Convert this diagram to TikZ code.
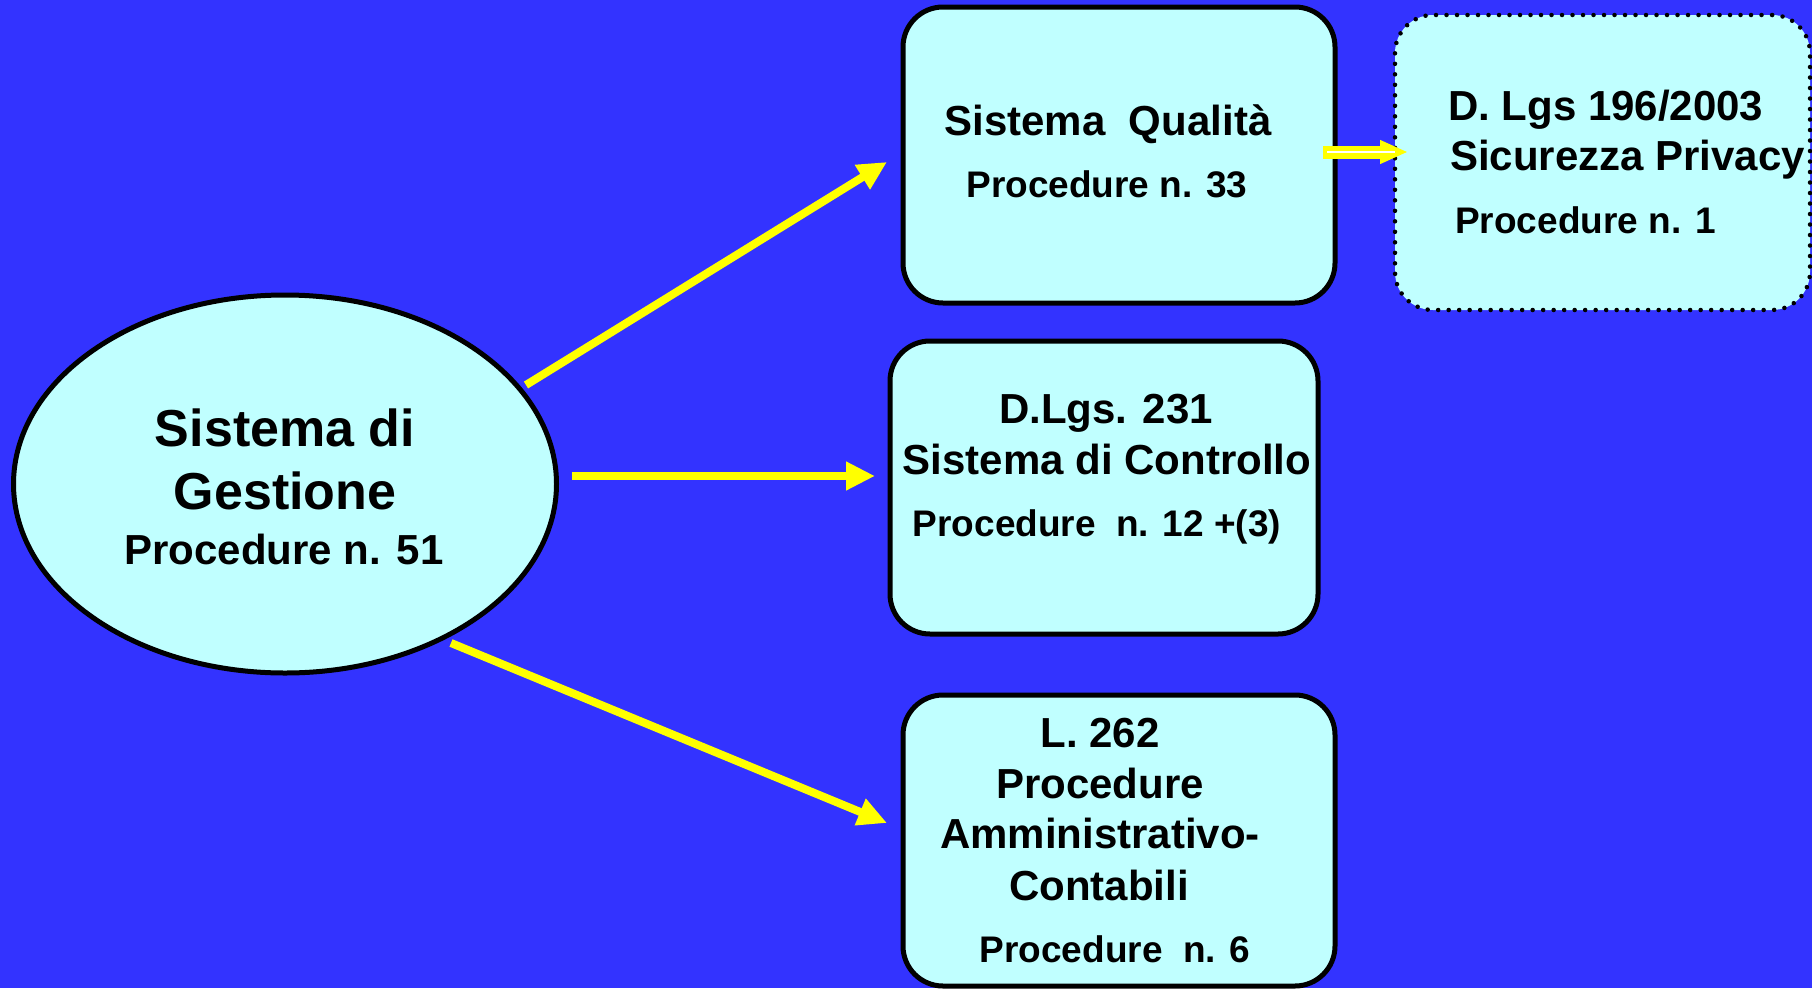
\documentclass[tikz,border=0pt]{standalone}
\usepackage{fontspec}
\setmainfont{Liberation Sans}
\usetikzlibrary{shapes.geometric,arrows.meta}
\definecolor{bgblue}{HTML}{3333FF}
\definecolor{boxfill}{HTML}{C0FFFF}
\definecolor{yel}{HTML}{FFFF00}
\tikzset{
  stepbox/.style={draw=black, line width=5pt, fill=boxfill, rounded corners=40pt, inner sep=0pt},
  dotbox/.style={draw=black, line width=4.5pt, fill=boxfill, rounded corners=38pt, inner sep=0pt,
     dash pattern=on 0pt off 10.5pt, line cap=round},
  ell/.style={draw=black, line width=5pt, fill=boxfill, ellipse, inner sep=0pt},
  huge/.style={font=\fontsize{52}{60}\selectfont\bfseries, anchor=base, inner sep=0pt},
  big/.style={font=\fontsize{42}{50}\selectfont\bfseries, anchor=base, inner sep=0pt},
  small/.style={font=\fontsize{37}{44}\selectfont\bfseries, anchor=base, inner sep=0pt},
  yarrow/.style={draw=yel, line width=8pt, -{Triangle[length=29pt,width=27pt]}, fill=yel},
}
\begin{document}
\begin{tikzpicture}[x=1pt,y=-1pt]
\useasboundingbox (0,0) rectangle (1812,988);
\fill[bgblue] (0,0) rectangle (1812,988);

% shapes
\node[ell, minimum width=543pt, minimum height=378pt] (g) at (285,484) {};
\node[stepbox, minimum width=432pt, minimum height=296pt] (q) at (1119,155) {};
\node[stepbox, minimum width=428pt, minimum height=293pt] (c) at (1104,487.5) {};
\node[stepbox, minimum width=432pt, minimum height=291pt] (l) at (1119,840.5) {};
\node[dotbox, minimum width=415pt, minimum height=295pt] (p) at (1602.5,162.5) {};

% ellipse text
\node[huge] (g1) at (285,446) {Sistema di};
\node[huge] (g2) at (285,509) {Gestione};
\node[big] (g3) at (284,564) {Procedure n. 51};

% box 1
\node[big] (q1) at (1108,135) {Sistema\ \ Qualità};
\node[small] (q2) at (1107,197) {Procedure n. 33};

% box 2
\node[big] (c1) at (1106,423) {D.Lgs. 231};
\node[big] (c2) at (1107,474) {Sistema di Controllo};
\node[small] (c3) at (1097,536) {Procedure\ \ n. 12 +(3)};

% box 3
\node[big] (l1) at (1100,747) {L. 262};
\node[big] (l2) at (1100,798) {Procedure};
\node[big] (l3) at (1100,848) {Amministrativo-};
\node[big] (l4) at (1099,900) {Contabili};
\node[small] (l5) at (1115,962) {Procedure\ \ n. 6};

% dotted box
\node[big, anchor=base west] (p1) at (1448,120) {D. Lgs 196/2003};
\node[big, anchor=base west] (p2) at (1450,170) {Sicurezza Privacy};
\node[small, anchor=base west] (p3) at (1455,233) {Procedure n. 1};

% connectors
\coordinate (a1s) at (526,385);
\coordinate (a1e) at (887,162);
\coordinate (a2s) at (572,476);
\coordinate (a2e) at (875,476);
\coordinate (a3s) at (451,643);
\coordinate (a3e) at (887,823);
\coordinate (a4s) at (1323,152);
\coordinate (a4e) at (1408,152);
\coordinate (a4w) at (1395,152);
\draw[yarrow] (a1s) -- (a1e);
\draw[yarrow] (a2s) -- (a2e);
\draw[yarrow] (a3s) -- (a3e);
\draw[draw=yel, fill=yel, line width=13pt, -{Triangle[length=28pt,width=22pt]}] (a4s) -- (a4e);
\draw[white, line width=2pt] (a4s) ++(4,0) -- (a4w);
\end{tikzpicture}
\end{document}
